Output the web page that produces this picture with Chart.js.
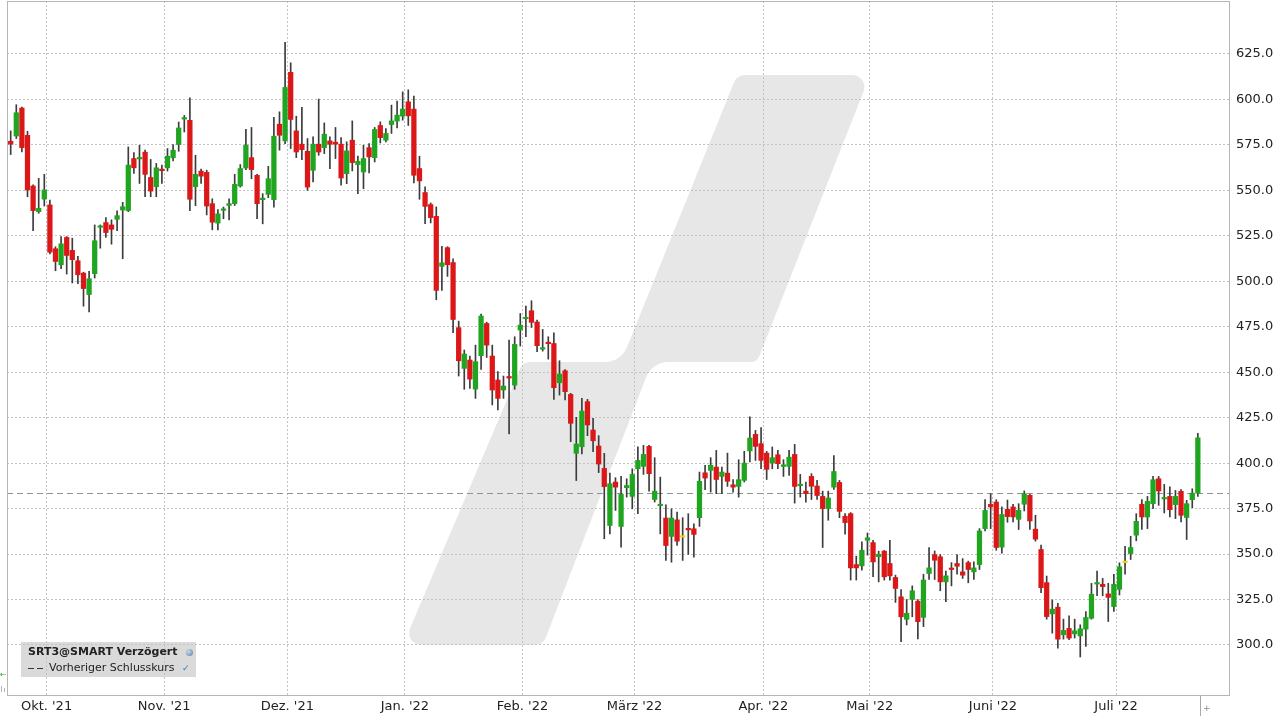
<!DOCTYPE html>
<html lang="de">
<head>
<meta charset="utf-8">
<title>SRT3 Kursverlauf</title>
<script src="https://cdn.jsdelivr.net/npm/chart.js"></script>
<style>
    html, body { margin: 0; padding: 0; background: #fff; }
    .chart-wrap { position: relative; width: 1280px; height: 720px; overflow: hidden; }
    #priceChart { display: block; }
    .legend-box {
        position: absolute; left: 21px; top: 642px; width: 175px; height: 35px;
        background: rgba(196, 196, 196, 0.62);
        font-family: "DejaVu Sans", Verdana, sans-serif; color: #222; font-size: 11px;
    }
    .legend-title { position: absolute; left: 7px; top: 3px; font-weight: bold; white-space: nowrap; }
    .legend-line { position: absolute; left: 28px; top: 19px; white-space: nowrap; }
    .dash { position: absolute; top: 26px; height: 1px; width: 6px; background: #333; }
    .globe {
        position: absolute; left: 165px; top: 7px; width: 7px; height: 7px; border-radius: 50%;
        background: radial-gradient(circle at 35% 35%, #c9d9ea, #5a7fa8);
    }
    .check { position: absolute; left: 161px; top: 21px; font-size: 9px; color: #2f6fd0; }
</style>
</head>
<body>
<div class="chart-wrap">
    <canvas id="priceChart" width="1280" height="720"></canvas>
    <div class="legend-box">
        <div class="legend-title">SRT3@SMART Verzögert</div>
        <div class="globe"></div>
        <div class="dash" style="left:7px"></div>
        <div class="dash" style="left:16px"></div>
        <div class="legend-line">Vorheriger Schlusskurs</div>
        <div class="check">&#10003;</div>
    </div>
</div>
<script>
// Month labels and the candle number (1-based) of the first trading day in each month
const monthLabels = ["Okt. '21", "Nov. '21", "Dez. '21", "Jan. '22", "Feb. '22", "März '22", "Apr. '22", "Mai '22", "Juni '22", "Juli '22"];
const monthStartIdx = [8, 29, 51, 72, 93, 113, 136, 155, 177, 199];

// Price axis ticks
const yTicks = [300, 325, 350, 375, 400, 425, 450, 475, 500, 525, 550, 575, 600, 625];

// Previous close (dashed line)
const prevClose = 383.5;

// Daily candles, 22.09.2021 - 21.07.2022
const opens = [
    577.0, 579.9, 595.3, 580.3, 552.4, 538.3, 545.2, 542.0, 517.9, 509.1,
    524.1, 517.0, 511.3, 504.5, 492.7, 504.2, 529.7, 532.3, 531.0, 534.1,
    539.2, 538.9, 567.5, 567.3, 571.0, 557.1, 552.0, 561.7, 562.4, 567.9,
    575.2, 589.2, 588.5, 552.0, 560.6, 559.9, 542.7, 532.0, 539.0, 541.7,
    542.7, 552.4, 562.3, 568.0, 558.3, 544.9, 547.8, 544.9, 586.4, 577.2,
    614.9, 582.7, 575.4, 571.5, 561.0, 575.4, 573.5, 577.2, 576.5, 575.4,
    559.2, 577.6, 564.2, 560.1, 573.5, 568.0, 585.7, 577.6, 586.2, 588.1,
    590.8, 598.7, 594.7, 562.0, 548.8, 542.2, 535.7, 508.2, 518.5, 510.3,
    474.5, 452.1, 456.7, 440.7, 459.1, 476.8, 458.9, 445.7, 440.2, 447.5,
    442.9, 473.2, 479.4, 483.8, 477.6, 462.7, 466.4, 465.8, 444.2, 450.8,
    437.8, 405.4, 409.0, 433.8, 418.2, 409.4, 397.1, 365.7, 389.6, 365.2,
    386.5, 381.7, 396.9, 398.2, 409.2, 380.0, 376.6, 369.8, 359.7, 368.8,
    359.3, 363.9, 363.9, 370.0, 394.7, 396.0, 397.8, 392.7, 394.5, 388.1,
    387.2, 390.5, 406.7, 415.8, 410.7, 405.5, 400.0, 404.6, 398.2, 398.2,
    404.8, 387.6, 384.6, 392.7, 387.4, 381.7, 375.0, 386.8, 389.4, 370.8,
    372.2, 344.2, 343.5, 357.6, 356.3, 348.6, 351.6, 344.8, 337.1, 326.5,
    314.1, 325.0, 324.1, 315.2, 339.3, 349.7, 348.5, 334.7, 342.0, 344.8,
    340.2, 345.3, 340.2, 344.2, 364.0, 377.3, 378.6, 353.8, 374.6, 375.9,
    369.1, 377.4, 382.3, 363.7, 352.5, 334.3, 317.1, 320.8, 305.6, 309.1,
    306.1, 305.0, 308.7, 314.7, 333.5, 333.4, 328.1, 321.1, 330.6, 345.3,
    350.3, 360.4, 377.4, 370.4, 377.7, 391.4, 380.3, 381.7, 377.2, 384.5,
    370.1, 379.9, 383.5
];
const highs = [
    582.7, 597.1, 595.8, 582.5, 553.0, 556.6, 558.8, 544.7, 519.0, 524.6,
    524.6, 523.7, 513.7, 505.0, 505.5, 531.0, 531.0, 535.0, 533.8, 538.7,
    543.4, 573.9, 570.8, 574.8, 572.1, 567.0, 564.8, 563.9, 573.0, 575.2,
    587.6, 591.2, 600.9, 569.3, 561.7, 561.1, 545.4, 539.5, 540.8, 545.4,
    558.8, 564.2, 583.5, 584.6, 558.8, 548.2, 563.2, 590.1, 593.2, 631.4,
    620.2, 590.8, 595.6, 578.5, 579.4, 600.2, 587.1, 579.4, 584.6, 579.0,
    576.7, 588.2, 568.8, 574.8, 575.7, 584.6, 587.7, 584.0, 596.9, 599.1,
    604.2, 605.3, 601.8, 568.8, 551.9, 543.1, 540.9, 519.2, 519.0, 512.4,
    478.1, 462.2, 458.9, 464.9, 482.0, 477.5, 464.9, 450.3, 447.9, 467.7,
    469.5, 482.3, 486.4, 489.3, 478.7, 473.5, 469.5, 471.7, 456.3, 451.5,
    438.4, 425.2, 435.6, 435.1, 424.6, 415.1, 405.4, 394.5, 392.0, 392.7,
    391.4, 396.9, 408.9, 409.8, 409.8, 403.0, 392.3, 377.1, 374.9, 373.1,
    370.0, 372.2, 366.6, 395.1, 398.8, 403.0, 407.0, 397.8, 405.5, 390.9,
    401.9, 406.5, 425.4, 418.0, 419.5, 406.5, 408.9, 407.0, 401.9, 407.0,
    410.3, 393.8, 389.6, 394.2, 390.5, 384.6, 384.6, 404.2, 390.5, 372.2,
    372.8, 348.8, 356.7, 361.6, 357.6, 351.6, 352.0, 357.6, 338.4, 330.5,
    325.0, 332.5, 325.0, 338.9, 353.6, 351.7, 349.7, 340.6, 345.3, 349.7,
    347.5, 346.1, 345.7, 364.0, 379.9, 383.2, 379.9, 376.0, 379.7, 377.4,
    377.7, 384.7, 382.8, 371.3, 354.9, 337.9, 324.8, 322.9, 314.2, 316.0,
    314.2, 311.1, 318.4, 333.9, 340.7, 336.6, 333.9, 338.8, 345.2, 354.3,
    359.8, 372.2, 379.9, 381.7, 392.7, 392.7, 388.3, 386.9, 385.0, 385.4,
    379.5, 385.9, 416.4
];
const lows = [
    569.7, 578.5, 571.2, 546.5, 527.9, 537.4, 541.4, 515.0, 505.8, 506.9,
    504.0, 499.1, 498.7, 486.3, 483.2, 501.8, 518.2, 524.1, 520.4, 527.9,
    512.4, 538.3, 559.3, 553.8, 546.5, 546.5, 546.5, 553.8, 560.6, 566.2,
    571.5, 582.1, 538.9, 541.6, 553.8, 536.5, 528.3, 528.3, 534.4, 533.8,
    541.7, 551.8, 561.4, 556.4, 534.4, 531.6, 546.0, 540.8, 572.1, 575.7,
    573.0, 568.0, 566.9, 550.0, 554.6, 569.3, 570.2, 562.0, 567.5, 552.8,
    553.7, 560.7, 548.2, 550.9, 559.6, 565.6, 576.1, 576.7, 581.3, 584.4,
    588.6, 585.7, 554.1, 545.1, 531.7, 532.1, 489.8, 495.0, 502.7, 471.7,
    447.9, 440.6, 441.1, 435.6, 451.6, 458.1, 432.0, 429.2, 435.6, 416.0,
    440.6, 464.4, 469.5, 474.6, 461.3, 461.6, 457.2, 435.1, 437.4, 434.7,
    411.8, 390.4, 405.0, 415.1, 406.3, 394.8, 358.4, 361.1, 374.0, 353.8,
    381.3, 374.9, 372.2, 393.8, 384.6, 378.6, 361.1, 346.5, 345.5, 354.7,
    346.5, 349.8, 348.3, 365.2, 385.4, 384.1, 383.2, 383.2, 387.2, 384.1,
    381.3, 389.6, 400.6, 401.5, 396.9, 391.0, 396.9, 396.9, 392.7, 393.3,
    378.0, 381.3, 378.6, 380.0, 380.0, 353.6, 368.6, 385.5, 370.0, 360.9,
    335.7, 335.7, 341.1, 349.4, 337.5, 334.7, 335.7, 335.7, 323.4, 301.8,
    311.0, 315.5, 303.3, 310.1, 336.0, 336.0, 329.8, 323.8, 332.5, 338.9,
    336.6, 334.2, 336.0, 341.5, 362.7, 364.0, 352.1, 350.5, 367.5, 367.7,
    363.5, 373.7, 363.5, 357.1, 328.8, 314.2, 306.5, 298.3, 303.2, 302.9,
    303.8, 293.4, 299.2, 314.2, 327.1, 327.0, 312.9, 318.4, 327.5, 339.0,
    347.0, 357.3, 363.5, 364.0, 375.0, 376.8, 372.6, 370.4, 369.5, 367.7,
    358.0, 375.5, 381.7
];
const closes = [
    575.4, 592.7, 573.5, 550.2, 538.9, 540.1, 550.2, 516.0, 510.9, 520.6,
    514.2, 511.9, 503.6, 496.0, 501.4, 522.3, 530.5, 526.8, 528.6, 536.1,
    541.0, 563.9, 562.4, 567.7, 558.8, 549.6, 562.4, 560.8, 568.8, 572.1,
    584.3, 589.8, 545.1, 558.8, 557.8, 541.4, 532.5, 537.1, 539.7, 542.7,
    553.3, 562.0, 574.8, 561.4, 542.7, 545.4, 556.4, 579.8, 580.3, 606.6,
    589.0, 571.1, 572.4, 551.8, 575.4, 571.1, 580.9, 575.4, 575.4, 556.8,
    571.7, 565.3, 566.0, 567.5, 568.4, 583.5, 579.0, 581.3, 588.2, 591.4,
    594.7, 591.0, 558.3, 555.2, 541.2, 535.0, 495.0, 510.2, 509.1, 479.0,
    456.3, 460.0, 446.2, 455.8, 480.9, 464.9, 440.2, 435.6, 442.4, 446.8,
    465.3, 475.9, 480.1, 477.4, 464.6, 463.3, 465.7, 441.5, 449.0, 439.3,
    421.9, 410.5, 428.6, 421.0, 412.3, 399.5, 387.1, 388.7, 386.8, 382.8,
    387.7, 393.8, 401.5, 404.8, 394.2, 384.6, 376.9, 354.7, 369.8, 357.1,
    359.3, 363.3, 360.8, 390.0, 391.8, 398.8, 391.0, 395.1, 390.0, 386.8,
    390.9, 400.0, 413.8, 409.2, 401.5, 396.6, 403.0, 399.7, 399.1, 403.3,
    387.2, 387.9, 383.2, 387.3, 382.2, 375.0, 380.8, 395.4, 373.5, 367.3,
    342.4, 342.4, 352.1, 358.9, 345.7, 349.9, 337.5, 338.0, 331.1, 315.5,
    317.4, 329.8, 312.8, 335.7, 342.4, 346.6, 334.7, 338.0, 341.5, 343.3,
    338.4, 341.5, 342.4, 362.7, 374.0, 375.9, 353.6, 371.8, 370.6, 370.4,
    374.1, 383.2, 368.2, 358.2, 331.5, 315.6, 319.7, 303.2, 308.0, 303.8,
    307.8, 308.9, 315.1, 327.9, 334.3, 332.1, 326.2, 333.4, 343.0, 345.3,
    353.6, 368.0, 370.4, 379.0, 390.9, 384.7, 380.8, 374.4, 381.7, 371.3,
    377.7, 383.5, 413.9
];

// Colours
const upColor = '#1fa51f';
const downColor = '#dc1717';
const dojiColor = '#e5d51c';
const wickColor = '#3c3c3c';
const gridColor = '#c2c2c2';

function candleColor(i) {
    if (opens[i] === closes[i]) return dojiColor;
    return closes[i] > opens[i] ? upColor : downColor;
}

// Logo watermark behind the plot (decoration only)
const watermarkPlugin = {
    id: 'watermark',
    beforeDraw(chart) {
        const ctx = chart.ctx;
        const pts = [[403, 645], [523, 362], [621, 362], [737, 75], [870, 75], [757, 362], [652, 362], [543, 645]];
        const radii = [12, 10, 24, 12, 12, 10, 24, 12];
        const n = pts.length;
        ctx.save();
        ctx.fillStyle = '#e7e7e7';
        ctx.beginPath();
        ctx.moveTo((pts[n - 1][0] + pts[0][0]) / 2, (pts[n - 1][1] + pts[0][1]) / 2);
        for (let i = 0; i < n; i++) {
            const next = pts[(i + 1) % n];
            ctx.arcTo(pts[i][0], pts[i][1], next[0], next[1], radii[i]);
        }
        ctx.closePath();
        ctx.fill();
        ctx.restore();
    }
};

// Previous close line, frame and small axis markers
const framePlugin = {
    id: 'frame',
    beforeDatasetsDraw(chart) {
        const { ctx, chartArea: a, scales: { y } } = chart;
        const yPrev = Math.round(y.getPixelForValue(prevClose)) + 0.5;
        ctx.save();
        ctx.strokeStyle = '#929292';
        ctx.lineWidth = 1;
        ctx.setLineDash([6, 4]);
        ctx.beginPath();
        ctx.moveTo(a.left, yPrev);
        ctx.lineTo(a.right, yPrev);
        ctx.stroke();
        ctx.setLineDash([]);
        ctx.strokeStyle = '#b6b6b6';
        ctx.strokeRect(a.left + 0.5, a.top + 0.5, a.right - a.left - 1, a.bottom - a.top - 1);
        ctx.restore();
    },
    afterDraw(chart) {
        const { ctx, chartArea: a } = chart;
        ctx.save();
        // "now" marker below the time axis
        ctx.strokeStyle = '#a8a8a8';
        ctx.beginPath();
        ctx.moveTo(1200.5, a.bottom);
        ctx.lineTo(1200.5, 716);
        ctx.stroke();
        ctx.fillStyle = '#8a8a8a';
        ctx.font = '9px "DejaVu Sans"';
        ctx.fillText('+', 1203, 711);
        // scroll arrow on the left edge
        ctx.fillStyle = '#3aa83a';
        ctx.font = '8px "DejaVu Sans"';
        ctx.fillText('\u2190', 0, 677);
        ctx.fillStyle = '#b0b0b0';
        ctx.fillRect(1, 686, 1, 6);
        ctx.fillRect(4, 688, 1, 4);
        ctx.restore();
    }
};

// Build the chart
function initializeChart() {
    const wickData = opens.map((o, i) => ({ x: i + 1, y: [lows[i], highs[i]] }));
    const bodyData = opens.map((o, i) => ({ x: i + 1, y: [o, closes[i]] }));
    const bodyColors = opens.map((o, i) => candleColor(i));

    const ctx = document.getElementById('priceChart').getContext('2d');
    new Chart(ctx, {
        type: 'bar',
        data: {
            datasets: [
                {
                    label: 'Körper',
                    data: bodyData,
                    backgroundColor: bodyColors,
                    borderWidth: 0,
                    barThickness: 4.6,
                    minBarLength: 1.5,
                    grouped: false,
                    order: 1
                },
                {
                    label: 'Docht',
                    data: wickData,
                    backgroundColor: wickColor,
                    borderWidth: 0,
                    barThickness: 1,
                    grouped: false,
                    order: 2
                }
            ]
        },
        options: {
            responsive: false,
            animation: false,
            layout: { padding: { left: 7, top: 1, right: 0, bottom: 0 } },
            plugins: {
                legend: { display: false },
                tooltip: { enabled: false }
            },
            scales: {
                x: {
                    type: 'linear',
                    position: 'bottom',
                    min: 0.34,
                    max: 218.74,
                    bounds: 'data',
                    offset: false,
                    grid: { color: gridColor, lineWidth: 1, drawTicks: false, offset: false },
                    border: { display: false, dash: [2, 2] },
                    afterBuildTicks: scale => {
                        scale.ticks = monthStartIdx.map(i => ({ value: i - 0.6 }));
                    },
                    afterFit: scale => {
                        scale.height = 24;
                        scale.paddingLeft = 0;
                        scale.paddingRight = 0;
                    },
                    ticks: {
                        autoSkip: false,
                        maxRotation: 0,
                        padding: 3,
                        color: '#222',
                        font: { family: 'DejaVu Sans', size: 13 },
                        callback: (value, index) => monthLabels[index]
                    }
                },
                y: {
                    type: 'linear',
                    position: 'right',
                    min: 271.94,
                    max: 654.14,
                    bounds: 'data',
                    grid: { color: gridColor, lineWidth: 1, drawTicks: false },
                    border: { display: false, dash: [2, 2] },
                    afterBuildTicks: scale => {
                        scale.ticks = yTicks.map(v => ({ value: v }));
                    },
                    afterFit: scale => {
                        scale.width = 50;
                        scale.paddingTop = 0;
                        scale.paddingBottom = 0;
                    },
                    ticks: {
                        padding: 6,
                        color: '#222',
                        font: { family: 'DejaVu Sans', size: 13 },
                        callback: value => Number(value).toFixed(1)
                    }
                }
            }
        },
        plugins: [watermarkPlugin, framePlugin]
    });
}

initializeChart();
</script>
</body>
</html>
